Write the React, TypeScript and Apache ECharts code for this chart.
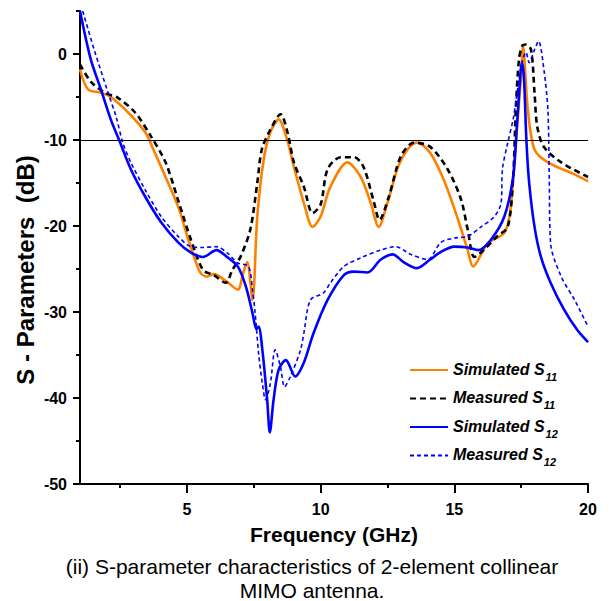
import React, { useEffect, useRef } from "react";
import * as echarts from "echarts";

// [frequency GHz, dB]
const simS11: number[][] = [
  [1.0, -1.8], [1.3, -4.1], [1.8, -4.5], [2.15, -5.0], [2.8, -6.8], [3.44, -9.1], [3.8, -11.5],
  [4.2, -14.3], [4.7, -18], [5.05, -21.6], [5.3, -23.9], [5.5, -25.4], [5.75, -25.9], [6.0, -25.6],
  [6.5, -26.5], [6.9, -27.4], [7.1, -25.5], [7.25, -24.2], [7.45, -28.6], [7.63, -18.9], [7.87, -12.3],
  [8.12, -9.1], [8.43, -7.6], [8.75, -10], [9.0, -13.1], [9.37, -17.3], [9.7, -20.1], [10.0, -18.9],
  [10.37, -15.4], [11.0, -12.6], [11.5, -14.3], [11.87, -17.3], [12.17, -20.1], [12.5, -17.3],
  [12.9, -13.1], [13.25, -11.1], [13.6, -10.3], [14.1, -11.5], [14.6, -14.6], [15.1, -18.9],
  [15.5, -22.8], [15.7, -24.7], [16.25, -22], [16.87, -20.8], [17.1, -18.1], [17.3, -10.3],
  [17.5, -2.6], [17.57, 0.9], [17.75, -6.5], [18.0, -11.1], [18.5, -12.6], [19.5, -14.0], [20, -14.8],
];

const measS11: number[][] = [
  [1.0, -1.2], [1.4, -3.2], [1.93, -4.5], [2.42, -5.1], [3.06, -6.8], [3.66, -9.6], [4.2, -12.6],
  [4.7, -17.3], [5.15, -21.6], [5.6, -25.1], [6.0, -25.7], [6.45, -26.6], [6.7, -25.1], [7.0, -23.6],
  [7.37, -20.4], [7.63, -15], [7.8, -11.1], [8.12, -8.8], [8.5, -7.0], [8.76, -9.1], [9.0, -12.6],
  [9.37, -15.4], [9.7, -18.5], [10.0, -17.5], [10.26, -13.4], [10.75, -12.0], [11.25, -12],
  [11.6, -13.1], [12.0, -17.3], [12.2, -19.3], [12.55, -16.6], [13.0, -11.9], [13.5, -10.3],
  [14.1, -10.8], [14.75, -13.4], [15.25, -16.9], [15.5, -20.4], [15.75, -23.6], [16.1, -22.8],
  [16.6, -21.2], [17.0, -20.1], [17.2, -14.3], [17.3, -6.5], [17.42, -0.6], [17.55, 1.0],
  [17.68, 1.1], [17.87, 0.5], [18.0, -4.5], [18.1, -8.4], [18.35, -10.8], [19.0, -12.6], [20, -14.3],
];

const simS12: number[][] = [
  [1.0, 5.0], [1.4, -0.6], [1.78, -4.1], [2.15, -7.6], [2.5, -10.3], [2.9, -13.4], [3.44, -16.6],
  [4.04, -19.6], [4.67, -21.9], [5.15, -23.1], [5.6, -23.6], [6.1, -22.8], [6.5, -23.6], [6.9, -24.7],
  [7.2, -27], [7.45, -30.1], [7.6, -32.0], [7.68, -31.7], [7.82, -34.4], [8.0, -40.2], [8.1, -44],
  [8.24, -40.2], [8.43, -36.7], [8.7, -35.6], [9.05, -37.5], [9.37, -35.9], [9.73, -32.5],
  [10.26, -28.6], [10.87, -25.7], [11.25, -25.3], [11.75, -25.4], [12.25, -23.9], [12.7, -23.3],
  [13.1, -24.2], [13.6, -24.9], [14.1, -23.9], [14.5, -23], [15.0, -22.4], [15.5, -22.5],
  [15.9, -22.8], [16.37, -21.6], [16.87, -18.9], [17.2, -14.3], [17.34, -8.4], [17.45, -3.3],
  [17.52, -1.0], [17.6, -2.6], [17.7, -10.3], [17.8, -15], [18.0, -20.1], [18.24, -23.6],
  [18.6, -26.6], [19.1, -29.7], [19.6, -32.1], [20, -33.5],
];

const measS12: number[][] = [
  [1.1, 5.0], [1.56, 0.2], [2.05, -4.5], [2.35, -7.3], [2.6, -10.3], [2.9, -12.6], [3.44, -15.8],
  [4.04, -18.9], [4.67, -21.2], [5.15, -22.4], [5.6, -22.5], [6.1, -22.4], [6.5, -23.1], [6.9, -24.3],
  [7.3, -24.7], [7.45, -27.4], [7.55, -30.1], [7.68, -34.8], [7.82, -38.3], [7.94, -40.2],
  [8.12, -38.3], [8.3, -34.4], [8.5, -36.4], [8.65, -38.7], [8.87, -37.5], [9.25, -34.4],
  [9.37, -32.5], [9.62, -28.6], [10.1, -27.8], [10.37, -26.6], [10.87, -24.7], [11.5, -23.7],
  [12.25, -22.8], [12.8, -22.4], [13.37, -23.3], [14.0, -23.9], [14.5, -21.9], [15.0, -21.4],
  [15.5, -21.2], [16.0, -20.1], [16.5, -18.9], [16.75, -17.3], [16.8, -13.4], [17.0, -10.3],
  [17.2, -7.6], [17.3, -5.6], [17.5, -1.4], [17.68, 0.2], [17.8, -1.0], [18.0, 0.5], [18.15, 1.5],
  [18.35, -1.8], [18.5, -6.5], [18.55, -14.3], [18.6, -22], [19.0, -25.9], [19.5, -28.6], [20, -31.7],
];

const xMajor = [5, 10, 15, 20];
const xMinor = [2.5, 7.5, 12.5, 17.5];
const yMajor = [-50, -40, -30, -20, -10, 0];
const yMinor = [-45, -35, -25, -15, -5, 5];
const refLevel = -10;

const FONT = "'Liberation Sans', Arial, Helvetica, sans-serif";

export default function App() {
  const ref = useRef<HTMLDivElement>(null);
  useEffect(() => {
    document.body.style.margin = "0";
    if (!ref.current) return;
    const chart = echarts.init(ref.current, null, { renderer: "svg" });
    const axisLine = { color: "#000", width: 2 };
    const labelStyle = { color: "#000", fontWeight: "bold" as const, fontSize: 16, fontFamily: FONT };
    const smooth = 0.3;
    const option: any = {
      animation: false,
      backgroundColor: "#fff",
      grid: { left: 80, right: 26, top: 11, bottom: 117, containLabel: false, outerBoundsMode: "none" },
      xAxis: [
        {
          type: "value", min: 1, max: 20, position: "bottom",
          axisLine: { show: true, onZero: false, lineStyle: axisLine },
          axisTick: { show: true, customValues: xMajor, length: 9, lineStyle: axisLine },
          axisLabel: { customValues: xMajor, margin: 17, ...labelStyle },
          splitLine: { show: false },
          name: "Frequency (GHz)", nameLocation: "middle", nameGap: 40,
          nameTextStyle: { color: "#000", fontWeight: "bold", fontSize: 21, fontFamily: FONT },
        },
        {
          type: "value", min: 1, max: 20, position: "bottom",
          axisLine: { show: false, onZero: false },
          axisTick: { show: true, customValues: xMinor, length: 4, lineStyle: axisLine },
          axisLabel: { show: false },
          splitLine: { show: false },
        },
      ],
      yAxis: [
        {
          type: "value", min: -50, max: 5, position: "left",
          axisLine: { show: true, onZero: false, lineStyle: axisLine },
          axisTick: { show: true, customValues: yMajor, length: 7, lineStyle: axisLine },
          axisLabel: { customValues: yMajor, margin: 13, ...labelStyle },
          splitLine: { show: false },
        },
        {
          type: "value", min: -50, max: 5, position: "left",
          axisLine: { show: false, onZero: false },
          axisTick: { show: true, customValues: yMinor, length: 4, lineStyle: axisLine },
          axisLabel: { show: false },
          splitLine: { show: false },
        },
      ],
      legend: {
        orient: "vertical", left: 404, top: 356, itemWidth: 38, itemHeight: 14, itemGap: 7.5,
        itemStyle: { opacity: 0 },
        formatter: (name: string) => `{n|${name.slice(0, -2)}}{s|${name.slice(-2)}}`,
        textStyle: {
          color: "#000",
          rich: {
            n: { fontSize: 16, fontStyle: "italic", fontWeight: "bold", fontFamily: FONT, lineHeight: 18, verticalAlign: "top", color: "#000" },
            s: { fontSize: 11, fontStyle: "italic", fontWeight: "bold", fontFamily: FONT, lineHeight: 11, verticalAlign: "top", padding: [10, 0, 0, 1], color: "#000" },
          },
        },
      },
      series: [
        {
          name: "Simulated S11", type: "line", data: simS11, showSymbol: false, symbol: "none", smooth,
          lineStyle: { color: "#FF8000", width: 2.6 }, itemStyle: { color: "#FF8000" },
          markLine: {
            silent: true, symbol: ["none", "none"], label: { show: false },
            lineStyle: { color: "#000", width: 1, type: "solid" },
            data: [{ yAxis: refLevel }],
          },
        },
        {
          name: "Measured S11", type: "line", data: measS11, showSymbol: false, symbol: "none", smooth,
          lineStyle: { color: "#000", width: 2.6, type: [6, 4] }, itemStyle: { color: "#000" },
        },
        {
          name: "Simulated S12", type: "line", data: simS12, showSymbol: false, symbol: "none", smooth,
          lineStyle: { color: "#0000FF", width: 2.6 }, itemStyle: { color: "#0000FF" },
        },
        {
          name: "Measured S12", type: "line", data: measS12, showSymbol: false, symbol: "none", smooth,
          lineStyle: { color: "#0000FF", width: 1.6, type: [4, 3] }, itemStyle: { color: "#0000FF" },
        },
      ],
      graphic: [
        {
          type: "text", x: 25, y: 270, rotation: Math.PI / 2,
          style: { text: "S - Parameters  (dB)", align: "center", verticalAlign: "middle", fill: "#000", font: `bold 24px ${FONT}` },
        },
        {
          type: "text", x: 312, y: 566,
          style: { text: "(ii) S-parameter characteristics of 2-element collinear", align: "center", verticalAlign: "middle", fill: "#000", font: `21px ${FONT}` },
        },
        {
          type: "text", x: 312, y: 590,
          style: { text: "MIMO antenna.", align: "center", verticalAlign: "middle", fill: "#000", font: `21px ${FONT}` },
        },
      ],
    };
    chart.setOption(option);
    return () => chart.dispose();
  }, []);
  return <div ref={ref} style={{ width: 614, height: 601 }} />;
}
